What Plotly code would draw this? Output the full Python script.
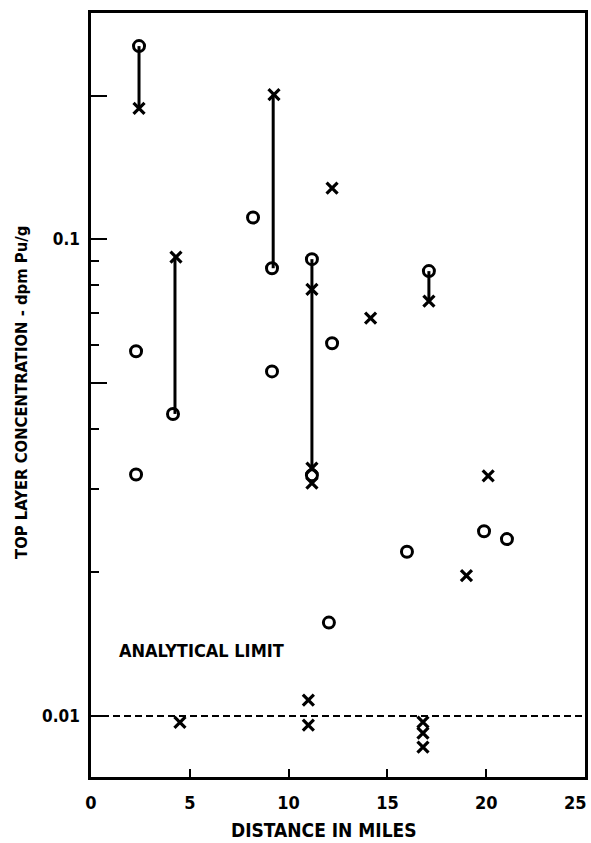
import plotly.graph_objects as go
import math

# ---- data ----
circle_x = [2.43, 2.28, 2.28, 4.15, 8.2, 9.16, 9.16, 11.18, 11.18, 12.2, 12.04, 15.99, 17.1, 19.89, 21.05]
circle_y = [0.254, 0.0582, 0.0321, 0.043, 0.111, 0.0869, 0.0528, 0.0908, 0.032, 0.0605, 0.0157, 0.0221, 0.0857, 0.0244, 0.0235]

cross_x = [2.43, 4.3, 4.5, 9.26, 11.18, 11.18, 11.18, 11.0, 11.0, 12.2, 14.15, 16.8, 16.8, 16.8, 17.1, 20.1, 19.0]
cross_y = [0.188, 0.0917, 0.0097, 0.201, 0.0785, 0.0331, 0.0308, 0.0108, 0.00957, 0.128, 0.0683, 0.00971, 0.00921, 0.00861, 0.0741, 0.0319, 0.0197]

# vertical connectors between paired samples: (x, low, high)
pair_x = [2.43, 4.25, 9.22, 11.18, 17.1]
pair_low = [0.188, 0.043, 0.0869, 0.0331, 0.0741]
pair_high = [0.254, 0.0917, 0.201, 0.0908, 0.0857]

analytical_limit = 0.01
x_range = [0, 25]
x_ticks = [0, 5, 10, 15, 20, 25]
x_tick_text = ["0", "5", "10", "15", "20", ""]
x_last_label = "25"
y_major = [0.01, 0.05, 0.1, 0.2]
y_major_text = ["0.01", "", "0.1", ""]
y_minor = [0.02, 0.03, 0.04, 0.06, 0.07, 0.08, 0.09]

FONT = "DejaVu Sans Condensed, Liberation Sans Narrow, Arial Narrow, sans-serif"

fig = go.Figure()

# connectors
for px, lo, hi in zip(pair_x, pair_low, pair_high):
    fig.add_trace(go.Scatter(x=[px, px], y=[lo, hi], mode="lines",
                             line=dict(color="black", width=3), showlegend=False, hoverinfo="skip"))

# analytical limit dashed line
fig.add_trace(go.Scatter(x=x_range, y=[analytical_limit, analytical_limit], mode="lines",
                         line=dict(color="black", width=2, dash="7px,4px"), showlegend=False, hoverinfo="skip"))

fig.add_trace(go.Scatter(x=circle_x, y=circle_y, mode="markers",
                         marker=dict(symbol="circle-open", size=11, color="black", line=dict(width=3)),
                         showlegend=False))
fig.add_trace(go.Scatter(x=cross_x, y=cross_y, mode="markers",
                         marker=dict(symbol="x-thin-open", size=11, color="black", line=dict(width=3.2)),
                         showlegend=False))

fig.add_annotation(x=5.57, y=math.log10(0.01374), xref="x", yref="y", text="<b>ANALYTICAL LIMIT</b>",
                   xanchor="center", yanchor="middle",
                   showarrow=False, font=dict(family=FONT, size=18, color="black"))

# last x tick label, kept inside the page edge
fig.add_annotation(x=x_range[1], y=(777 - 802) / 764, xref="x", yref="paper", text="<b>" + x_last_label + "</b>",
                   xanchor="right", yanchor="middle", xshift=4, showarrow=False,
                   font=dict(family=FONT, size=18, color="black"))

fig.add_annotation(x=(324 - 91) / 494, y=(777 - 830) / 764, xref="paper", yref="paper",
                   xanchor="center", yanchor="middle",
                   text="<b>DISTANCE IN MILES</b>", showarrow=False,
                   font=dict(family=FONT, size=19, color="black"))
fig.add_annotation(x=(21 - 91) / 494, y=(777 - 393) / 764, xref="paper", yref="paper", textangle=-90,
                   xanchor="center", yanchor="middle",
                   text="<b>TOP LAYER CONCENTRATION - dpm Pu/g</b>", showarrow=False,
                   font=dict(family=FONT, size=16.5, color="black"))

fig.update_xaxes(range=x_range, tickvals=x_ticks, ticktext=x_tick_text,
                 ticks="inside", ticklen=8, tickwidth=2, tickcolor="black",
                 showline=True, linewidth=2.5, linecolor="black", mirror=True,
                 showgrid=False, zeroline=False, ticklabelstandoff=8, automargin=False,
                 tickfont=dict(family=FONT, size=18, color="black", weight="bold"))
fig.update_yaxes(type="log", range=[math.log10(0.00745), math.log10(0.298)],
                 tickvals=y_major, ticktext=y_major_text,
                 ticks="inside", ticklen=16, tickwidth=2, tickcolor="black",
                 minor=dict(tickvals=y_minor, ticks="inside", ticklen=8, tickwidth=2, tickcolor="black"),
                 showline=True, linewidth=2.5, linecolor="black", mirror=True,
                 showgrid=False, zeroline=False, ticklabelstandoff=5, automargin=False,
                 tickfont=dict(family=FONT, size=17, color="black", weight="bold"))

fig.update_layout(width=591, height=843, margin=dict(l=91, r=6, t=13, b=66, autoexpand=False),
                  plot_bgcolor="white", paper_bgcolor="white", showlegend=False)

fig.write_html("out.html", config={"displayModeBar": False},
               post_script="document.body.style.margin='0';document.body.style.overflow='hidden';")
